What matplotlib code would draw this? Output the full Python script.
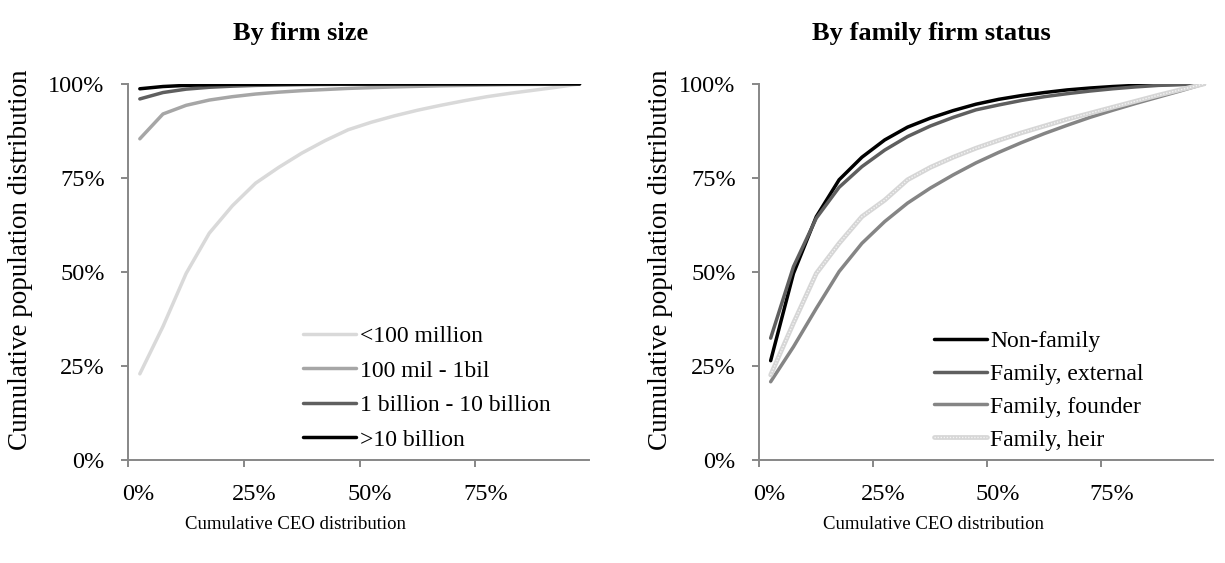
import matplotlib
matplotlib.use("Agg")
import matplotlib.pyplot as plt
import matplotlib.transforms as mtransforms
from matplotlib.ticker import FuncFormatter

plt.rcParams["font.family"] = ["Liberation Serif", "DejaVu Serif"]

# --- data (cumulative shares, %) ---
CEO_PCT = [2.5, 7.5, 12.5, 17.5, 22.5, 27.5, 32.5, 37.5, 42.5, 47.5,
           52.5, 57.5, 62.5, 67.5, 72.5, 77.5, 82.5, 87.5, 92.5, 97.5]

size_labels = ["<100 million", "100 mil - 1bil", "1 billion - 10 billion", ">10 billion"]
size_small = [22.9, 35.5, 49.6, 60.3, 67.6, 73.6, 77.8, 81.6, 84.9, 87.8,
              89.8, 91.5, 93.0, 94.3, 95.5, 96.6, 97.5, 98.3, 99.1, 100.0]
size_mid = [85.4, 92.0, 94.3, 95.7, 96.6, 97.3, 97.8, 98.2, 98.5, 98.8,
            99.0, 99.2, 99.35, 99.5, 99.6, 99.7, 99.8, 99.85, 99.9, 100.0]
size_large = [96.0, 97.7, 98.6, 99.1, 99.4, 99.6, 99.7, 99.8, 99.85, 99.9,
              99.9, 99.95, 99.95, 99.97, 99.98, 99.99, 99.99, 100.0, 100.0, 100.0]
size_mega = [98.7, 99.3, 99.6, 99.8, 99.9, 99.9, 99.95, 99.95, 99.97, 99.98,
             99.98, 99.99, 99.99, 100.0, 100.0, 100.0, 100.0, 100.0, 100.0, 100.0]

fam_labels = ["Non-family", "Family, external", "Family, founder", "Family, heir"]
fam_non = [26.4, 49.6, 64.7, 74.5, 80.5, 85.1, 88.5, 90.9, 92.9, 94.6,
           95.9, 96.9, 97.7, 98.4, 98.9, 99.3, 99.6, 99.8, 99.9, 100.0]
fam_ext = [32.4, 51.4, 64.3, 72.5, 78.0, 82.4, 86.0, 88.8, 91.1, 93.1,
           94.4, 95.6, 96.6, 97.4, 98.1, 98.7, 99.2, 99.6, 99.8, 100.0]
fam_founder = [20.8, 30.1, 40.3, 50.1, 57.6, 63.4, 68.3, 72.3, 75.8, 79.0,
               81.8, 84.4, 86.8, 89.0, 91.1, 93.0, 94.8, 96.5, 98.2, 100.0]
fam_heir = [22.6, 36.4, 49.6, 57.6, 64.7, 69.1, 74.5, 77.8, 80.5, 82.9,
            85.0, 87.0, 88.8, 90.6, 92.2, 93.8, 95.4, 97.0, 98.5, 100.0]

SPINE = "#878787"
TICK_FS = 17.5

fig = plt.figure(figsize=(12.25, 5.63), dpi=100)
ax1 = fig.add_axes([0.1047, 0.183, 0.376, 0.668])
ax2 = fig.add_axes([0.6198, 0.183, 0.3706, 0.668])


def style_axis(ax):
    ax.set_xlim(0, 99.5)
    ax.set_ylim(0, 100)
    ax.set_xticks([0, 25, 50, 75])
    ax.set_yticks([0, 25, 50, 75, 100])
    pct = FuncFormatter(lambda v, _: f"{v:.0f}%")
    ax.xaxis.set_major_formatter(pct)
    ax.yaxis.set_major_formatter(pct)
    for s in ["top", "right"]:
        ax.spines[s].set_visible(False)
    for s in ["left", "bottom"]:
        ax.spines[s].set_color(SPINE)
        ax.spines[s].set_linewidth(1.4)
    ax.tick_params(axis="both", colors=SPINE, labelcolor="black",
                   labelsize=TICK_FS, length=5, width=1.4, direction="out")
    ax.tick_params(axis="y", pad=12)
    ax.tick_params(axis="x", pad=12)
    shift = mtransforms.ScaledTranslation(10 / 100, 0, fig.dpi_scale_trans)
    for lab in ax.get_xticklabels():
        lab.set_transform(lab.get_transform() + shift)


# left panel
size_series = [size_small, size_mid, size_large, size_mega]
size_colors = ["#d9d9d9", "#a6a6a6", "#5f5f5f", "#000000"]
for vals, lab, col in zip(size_series, size_labels, size_colors):
    ax1.plot(CEO_PCT, vals, color=col, lw=2.5, label=lab, solid_capstyle="round")
style_axis(ax1)
ax1.legend(loc="lower left", bbox_to_anchor=(0.38, 0.025), frameon=False,
           fontsize=17, handlelength=2.25, handletextpad=0.15,
           labelspacing=0.55, borderpad=0, borderaxespad=0)

# right panel
l_non, = ax2.plot(CEO_PCT, fam_non, color="#000000", lw=2.5, solid_capstyle="round")
l_ext, = ax2.plot(CEO_PCT, fam_ext, color="#5f5f5f", lw=2.5, solid_capstyle="round")
l_fou, = ax2.plot(CEO_PCT, fam_founder, color="#858585", lw=2.5, solid_capstyle="round")
l_heir, = ax2.plot(CEO_PCT, fam_heir, color="#d6d6d6", lw=3.4, solid_capstyle="round")
l_heir2, = ax2.plot(CEO_PCT, fam_heir, color="#f4f4f4", lw=1.0, ls=(0, (1, 1.2)))
style_axis(ax2)
ax2.legend([l_non, l_ext, l_fou, (l_heir, l_heir2)], fam_labels,
           loc="lower left", bbox_to_anchor=(0.384, 0.025), frameon=False,
           fontsize=17, handlelength=2.25, handletextpad=0.15,
           labelspacing=0.48, borderpad=0, borderaxespad=0)

# titles and axis labels
fig.text(0.245, 0.941, "By firm size", ha="center", va="center",
         fontsize=19, fontweight="bold")
fig.text(0.760, 0.941, "By family firm status", ha="center", va="center",
         fontsize=19, fontweight="bold")
fig.text(0.241, 0.0675, "Cumulative CEO distribution", ha="center", va="center",
         fontsize=13.5)
fig.text(0.762, 0.0675, "Cumulative CEO distribution", ha="center", va="center",
         fontsize=13.5)
fig.text(0.0165, 0.538, "Cumulative population distribution", ha="center",
         va="center", rotation=90, fontsize=19.5)
fig.text(0.539, 0.538, "Cumulative population distribution", ha="center",
         va="center", rotation=90, fontsize=19.5)

fig.savefig("out.png", dpi=100)
